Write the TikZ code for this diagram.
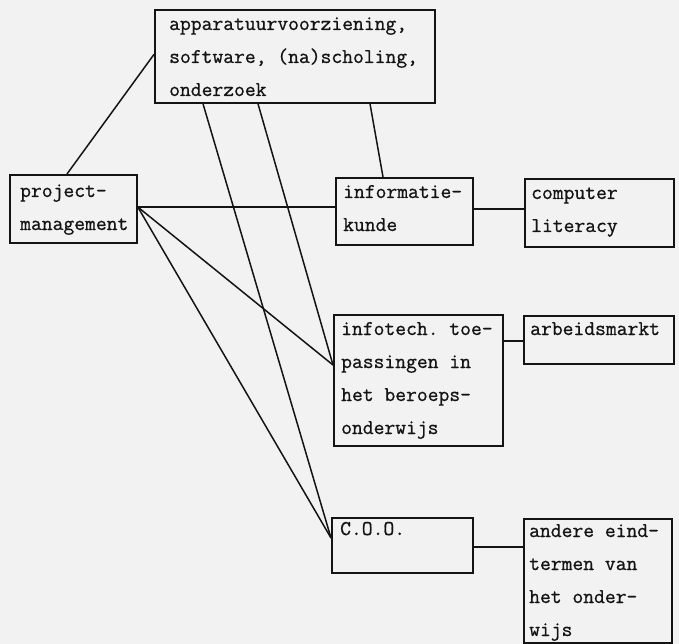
\documentclass[tikz,border=0pt]{standalone}
\usepackage{fontspec}
\setmonofont{Latin Modern Mono}[FakeBold=0.8]
\definecolor{bgcol}{RGB}{242,242,242}
\definecolor{ink}{RGB}{20,20,20}
\newcommand\mlines[1]{\vtop{\baselineskip=33pt\lineskiplimit=-100pt\lineskip=0pt #1}}
\tikzset{
  box/.style={draw=ink, line width=1.8pt, inner sep=0pt, anchor=north west},
  txt/.style={anchor=base west, inner sep=0pt, text=ink, font=\ttfamily\fontsize{21}{33}\selectfont},
  conn/.style={draw=ink, line width=1.5pt}
}
\begin{document}
\begin{tikzpicture}[x=1pt,y=-1pt]
\fill[bgcol] (0,0) rectangle (679,644);
\useasboundingbox (0,0) rectangle (679,644);
% boxes
\node[box, minimum width=280pt, minimum height=93pt] (top) at (154,9) {};
\node[box, minimum width=127pt, minimum height=68pt] (pm) at (9,174) {};
\node[box, minimum width=137pt, minimum height=67pt] (inf) at (335,177) {};
\node[box, minimum width=149pt, minimum height=68pt] (cl) at (524,178) {};
\node[box, minimum width=169pt, minimum height=131pt] (it) at (333,314) {};
\node[box, minimum width=150pt, minimum height=48pt] (am) at (523,315) {};
\node[box, minimum width=141pt, minimum height=55pt] (coo) at (331,517) {};
\node[box, minimum width=148pt, minimum height=124pt] (ae) at (523,518) {};
% texts
\node[txt] (toptxt) at ([shift={(15pt,-21pt)}]top.north west) {\mlines{\hbox{apparatuurvoorziening,}\hbox{software, (na)scholing,}\hbox{onderzoek}}};
\node[txt] (pmtxt) at ([shift={(11pt,-23pt)}]pm.north west) {\mlines{\hbox{project-}\hbox{management}}};
\node[txt] (inftxt) at ([shift={(8pt,-21pt)}]inf.north west) {\mlines{\hbox{informatie-}\hbox{kunde}}};
\node[txt] (cltxt) at ([shift={(7pt,-21pt)}]cl.north west) {\mlines{\hbox{computer}\hbox{literacy}}};
\node[txt] (ittxt) at ([shift={(8pt,-21pt)}]it.north west) {\mlines{\hbox{infotech. toe-}\hbox{passingen in}\hbox{het beroeps-}\hbox{onderwijs}}};
\node[txt] (amtxt) at ([shift={(7pt,-20pt)}]am.north west) {\mlines{\hbox{arbeidsmarkt}}};
\node[txt] (cootxt) at ([shift={(9pt,-18pt)}]coo.north west) {\mlines{\hbox{C.O.O.}}};
\node[txt] (aetxt) at ([shift={(6pt,-19pt)}]ae.north west) {\mlines{\hbox{andere eind-}\hbox{termen van}\hbox{het onder-}\hbox{wijs}}};
% connection points
\coordinate (itin) at ([yshift=-51pt]it.north west);
\coordinate (cooin) at ([yshift=-21pt]coo.north west);
\coordinate (pmout) at ([yshift=-33pt]pm.north east);
% connectors
\draw[conn] ([yshift=2pt]top.west) -- ([xshift=58pt]pm.north west);
\draw[conn] ([xshift=49pt]top.south west) -- (cooin);
\draw[conn] ([xshift=104pt]top.south west) -- (itin);
\draw[conn] ([xshift=216pt]top.south west) -- ([xshift=48pt]inf.north west);
\draw[conn] (pmout) -- (pmout -| inf.west);
\draw[conn] (pmout) -- (itin);
\draw[conn] (pmout) -- (cooin);
\draw[conn] ([yshift=-32pt]inf.north east) -- ([yshift=-32pt]inf.north east -| cl.west);
\draw[conn] ([yshift=-26pt]am.north west -| it.east) -- ([yshift=-26pt]am.north west);
\draw[conn] ([yshift=-30pt]coo.north east) -- ([yshift=-30pt]coo.north east -| ae.west);
\end{tikzpicture}
\end{document}
